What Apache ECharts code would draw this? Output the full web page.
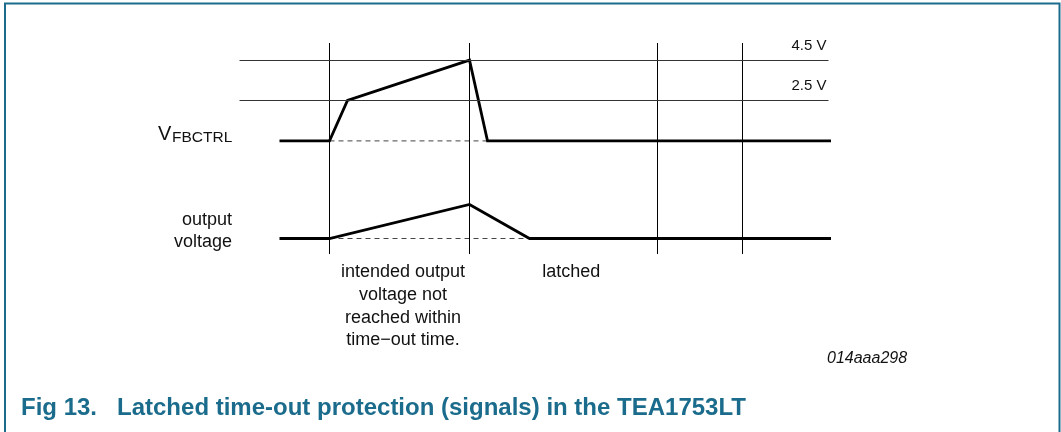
<!DOCTYPE html>
<html><head><meta charset="utf-8">
<script src="https://cdn.jsdelivr.net/npm/echarts@6/dist/echarts.min.js"></script>
<style>html,body{margin:0;padding:0;background:#fff}#c{width:1061px;height:432px}</style>
</head><body><div id="c"></div>
<script>
// time axis in arbitrary units, level axes in volts / normalized
const timeMarkers = [9, 23, 41.8, 50.3];
const thresholdLevels = [4.5, 2.5];
const thresholdLabels = ['4.5 V', '2.5 V'];
const vfbTime = [4.0, 9.0, 10.8, 23.0, 24.8, 59.2];
const vfbLevel = [0.5, 0.5, 2.5, 4.5, 0.5, 0.5];
const vfbRefTime = [9.0, 24.8];
const vfbRefLevel = [0.5, 0.5];
const outTime = [4.0, 9.0, 23.0, 29.0, 59.2];
const outLevel = [0, 0, 1, 0, 0];
const outRefTime = [9.0, 29.0];
const outRefLevel = [0, 0];
const phaseLabels = ['intended output\nvoltage not\nreached within\ntime\u2212out time.', 'latched'];
const figTitle = 'Fig 13.   Latched time-out protection (signals) in the TEA1753LT';
const figCode = '014aaa298';

const pairs = (t, v) => t.map((x, i) => [x, v[i]]);
const FONT = '"Liberation Sans", Arial, Helvetica, sans-serif';
const TEAL = '#1b6c8c';

const grids = [
  {left: 239.5, width: 589, top: 43, height: 211},   // markers
  {left: 239.5, width: 589, top: 50, height: 101},   // VFBCTRL
  {left: 239.5, width: 589, top: 204.5, height: 34}  // output voltage
];
const xAxes = grids.map((g, i) => ({type: 'value', gridIndex: i, min: 0, max: 58.9, show: false}));
const yAxes = [
  {type: 'value', gridIndex: 0, min: 0, max: 1, show: false},
  {type: 'value', gridIndex: 1, min: 0, max: 5, show: false},
  {type: 'value', gridIndex: 2, min: 0, max: 1, show: false}
];

const thick = {color: '#000', width: 2.8, join: 'miter', cap: 'butt'};
const dashed = {color: '#444', width: 1, type: [5, 4]};

const option = {
  animation: false,
  backgroundColor: '#fff',
  title: {
    text: figTitle, left: 21, top: 396, padding: 0,
    textStyle: {fontFamily: FONT, fontSize: 24, fontWeight: 'bold', color: TEAL}
  },
  grid: grids,
  xAxis: xAxes,
  yAxis: yAxes,
  series: [
    {
      type: 'line', xAxisIndex: 0, yAxisIndex: 0, data: [], silent: true,
      markLine: {
        silent: true, symbol: ['none', 'none'], animation: false,
        label: {show: false},
        lineStyle: {color: '#000', width: 1, type: 'solid'},
        data: timeMarkers.map(t => ({xAxis: t}))
      }
    },
    {
      type: 'line', xAxisIndex: 1, yAxisIndex: 1, data: [], silent: true,
      markLine: {
        silent: true, symbol: ['none', 'none'], animation: false,
        lineStyle: {color: '#333', width: 1, type: 'solid'},
        label: {
          show: true, position: 'insideEndTop', distance: [2, 7],
          fontFamily: FONT, fontSize: 15, color: '#111',
          formatter: p => thresholdLabels[thresholdLevels.indexOf(p.value)]
        },
        data: thresholdLevels.map(v => ({yAxis: v}))
      }
    },
    {
      type: 'line', xAxisIndex: 1, yAxisIndex: 1, data: pairs(vfbRefTime, vfbRefLevel),
      symbol: 'none', clip: false, silent: true, z: 2, lineStyle: dashed
    },
    {
      type: 'line', xAxisIndex: 1, yAxisIndex: 1, data: pairs(vfbTime, vfbLevel),
      symbol: 'none', clip: false, silent: true, z: 3, lineStyle: thick
    },
    {
      type: 'line', xAxisIndex: 2, yAxisIndex: 2, data: pairs(outRefTime, outRefLevel),
      symbol: 'none', clip: false, silent: true, z: 2, lineStyle: dashed
    },
    {
      type: 'line', xAxisIndex: 2, yAxisIndex: 2, data: pairs(outTime, outLevel),
      symbol: 'none', clip: false, silent: true, z: 3, lineStyle: thick
    }
  ],
  graphic: [
    {type: 'polyline', silent: true, shape: {points: [[5, 432], [5, 3.5], [1059.5, 3.5], [1059.5, 432]]},
     style: {stroke: TEAL, lineWidth: 2, fill: null}},
    {type: 'text', silent: true, x: 158, y: 134.7,
     style: {text: 'V', fontFamily: FONT, fontSize: 20, fill: '#111', align: 'left', verticalAlign: 'middle'}},
    {type: 'text', silent: true, x: 172, y: 137.8,
     style: {text: 'FBCTRL', fontFamily: FONT, fontSize: 15.5, fill: '#111', align: 'left', verticalAlign: 'middle'}},
    {type: 'text', silent: true, x: 232, y: 231.3,
     style: {text: 'output\nvoltage', fontFamily: FONT, fontSize: 18, lineHeight: 22, fill: '#111', align: 'right', verticalAlign: 'middle'}},
    {type: 'text', silent: true, x: 403, y: 306.3,
     style: {text: phaseLabels[0], fontFamily: FONT, fontSize: 18, lineHeight: 22.8, fill: '#111', align: 'center', verticalAlign: 'middle'}},
    {type: 'text', silent: true, x: 571.3, y: 272,
     style: {text: phaseLabels[1], fontFamily: FONT, fontSize: 18, fill: '#111', align: 'center', verticalAlign: 'middle'}},
    {type: 'text', silent: true, x: 827, y: 358.5,
     style: {text: figCode, fontFamily: FONT, fontSize: 16, fontStyle: 'italic', fill: '#111', align: 'left', verticalAlign: 'middle'}}
  ]
};
const chart = echarts.init(document.getElementById('c'), null, {renderer: 'canvas'});
chart.setOption(option);
</script></body></html>
